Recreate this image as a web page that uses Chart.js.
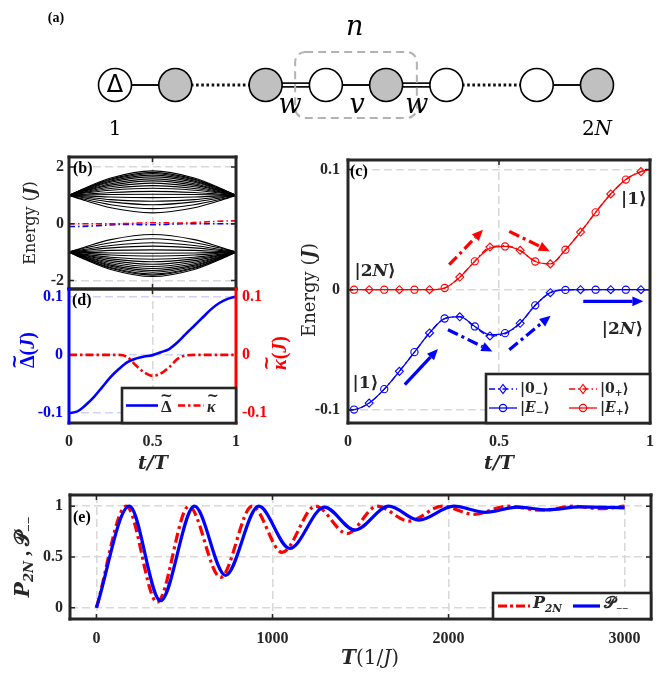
<!DOCTYPE html>
<html>
<head>
<meta charset="utf-8">
<script src="https://cdn.jsdelivr.net/npm/chart.js@4.4.1/dist/chart.umd.min.js"></script>
<style>
  body { margin: 0; background: #fff; width: 667px; height: 673px; position: relative; overflow: hidden; }
  canvas { position: absolute; }
</style>
</head>
<body>
<script>
// ---- data -------------------------------------------------------------
// (a) chain of sites
const siteX = [0, 1, 2.5, 3.5, 4.5, 5.5, 7, 8];
const siteFilled = [false, true, true, false, true, false, false, true];
const singleBonds = [[0, 1], [3, 4], [6, 7]];
const doubleBonds = [[2, 3], [4, 5]];
const dottedBonds = [[1, 2], [5, 6]];

// (b) bulk bands, sampled at tBand
const tBand = [0, 0.1, 0.25, 0.5, 0.75, 0.9, 1];
const upperBand = [
  [1, 1.27, 1.61, 1.86, 1.61, 1.27, 1],
  [1, 1.25, 1.57, 1.81, 1.57, 1.25, 1],
  [1, 1.24, 1.54, 1.77, 1.54, 1.24, 1],
  [1, 1.22, 1.50, 1.71, 1.50, 1.22, 1],
  [1, 1.20, 1.46, 1.65, 1.46, 1.20, 1],
  [1, 1.18, 1.41, 1.58, 1.41, 1.18, 1],
  [1, 1.16, 1.36, 1.51, 1.36, 1.16, 1],
  [1, 1.13, 1.30, 1.43, 1.30, 1.13, 1],
  [1, 1.11, 1.24, 1.34, 1.24, 1.11, 1],
  [1, 1.08, 1.18, 1.25, 1.18, 1.08, 1],
  [1, 1.04, 1.10, 1.14, 1.10, 1.04, 1],
  [1, 1.01, 1.03, 1.04, 1.03, 1.01, 1],
  [1, 0.98, 0.94, 0.92, 0.94, 0.98, 1],
  [1, 0.94, 0.85, 0.79, 0.85, 0.94, 1],
  [1, 0.90, 0.77, 0.67, 0.77, 0.90, 1],
  [1, 0.85, 0.67, 0.53, 0.67, 0.85, 1],
  [1, 0.81, 0.56, 0.38, 0.56, 0.81, 1]
];
const lowerBand = [
  [-1, -1.27, -1.61, -1.86, -1.61, -1.27, -1],
  [-1, -1.25, -1.57, -1.81, -1.57, -1.25, -1],
  [-1, -1.24, -1.54, -1.77, -1.54, -1.24, -1],
  [-1, -1.22, -1.50, -1.71, -1.50, -1.22, -1],
  [-1, -1.20, -1.46, -1.65, -1.46, -1.20, -1],
  [-1, -1.18, -1.41, -1.58, -1.41, -1.18, -1],
  [-1, -1.16, -1.36, -1.51, -1.36, -1.16, -1],
  [-1, -1.13, -1.30, -1.43, -1.30, -1.13, -1],
  [-1, -1.11, -1.24, -1.34, -1.24, -1.11, -1],
  [-1, -1.08, -1.18, -1.25, -1.18, -1.08, -1],
  [-1, -1.04, -1.10, -1.14, -1.10, -1.04, -1],
  [-1, -1.01, -1.03, -1.04, -1.03, -1.01, -1],
  [-1, -0.98, -0.94, -0.92, -0.94, -0.98, -1],
  [-1, -0.94, -0.85, -0.79, -0.85, -0.94, -1],
  [-1, -0.90, -0.77, -0.67, -0.77, -0.90, -1],
  [-1, -0.85, -0.67, -0.53, -0.67, -0.85, -1],
  [-1, -0.81, -0.56, -0.38, -0.56, -0.81, -1]
];

// (c) edge-state energies
const tC = [0, 0.02, 0.07, 0.12, 0.17, 0.22, 0.27, 0.32, 0.37, 0.42, 0.47, 0.52, 0.57, 0.62, 0.67, 0.72, 0.77, 0.82, 0.87, 0.92, 0.97, 1];
const eMinus    = [-0.1, -0.0998, -0.0944, -0.0828, -0.068, -0.052, -0.036, -0.024, -0.0225, -0.0306, -0.0375, -0.0362, -0.0278, -0.013, -0.0025, -0.0002, 0, 0, 0, 0, 0, 0];
const zeroMinus = [-0.1, -0.0998, -0.0944, -0.0828, -0.068, -0.052, -0.036, -0.024, -0.0226, -0.031, -0.0385, -0.0368, -0.028, -0.013, -0.0025, -0.0002, 0, 0, 0, 0, 0, 0];
const ePlus     = [0, 0, 0, 0, 0, 0, 0, 0.0014, 0.0103, 0.0236, 0.0345, 0.036, 0.0325, 0.0235, 0.0215, 0.0333, 0.048, 0.0644, 0.0797, 0.0917, 0.0983, 0.1];
const zeroPlus  = [0, 0, 0, 0, 0, 0, 0, 0.0014, 0.0105, 0.0238, 0.0355, 0.0366, 0.0328, 0.0236, 0.0215, 0.0333, 0.048, 0.0644, 0.0797, 0.0917, 0.0983, 0.1];

// (d) protocol
const tD = [0, 0.05, 0.1, 0.15, 0.2, 0.25, 0.3, 0.35, 0.4, 0.45, 0.5, 0.55, 0.6, 0.65, 0.7, 0.75, 0.8, 0.85, 0.9, 0.95, 1];
const deltaT = [-0.1, -0.097, -0.086, -0.072, -0.055, -0.038, -0.024, -0.0125, -0.0065, -0.003, -0.0005, 0.0045, 0.01, 0.0215, 0.036, 0.05, 0.064, 0.078, 0.089, 0.096, 0.1];
const kappaT = [0, 0, 0, 0, 0, 0, 0, -0.004, -0.018, -0.03, -0.036, -0.032, -0.021, -0.007, -0.001, 0, 0, 0, 0, 0, 0];

// (e) transfer probability vs total time
const tP2N = [0, 170, 345, 525, 705, 885, 1055, 1244, 1424, 1595, 1775, 1964, 2144, 2333, 2530, 2712, 2860, 3000];
const p2N  = [0, 1, 0.055, 1, 0.3, 1, 0.545, 1, 0.73, 1, 0.853, 1, 0.92, 1, 0.96, 1, 0.975, 1];
const tPmm = [0, 187, 364, 557, 733, 922, 1098, 1295, 1468, 1661, 1831, 2030, 2210, 2390, 2560, 2750, 3000];
const pmm  = [0, 1, 0.07, 1, 0.32, 1, 0.585, 0.99, 0.765, 1, 0.863, 1, 0.94, 0.99, 0.964, 0.993, 0.984];

// ticks
const tTicks = [0, 0.5, 1], tLabels = ['0', '0.5', '1'];
const bTicks = [-2, 0, 2], bLabels = ['-2', '0', '2'];
const cTicks = [-0.1, 0, 0.1], cLabels = ['-0.1', '0', '0.1'];
const eTicksX = [0, 1000, 2000, 3000], eLabelsX = ['0', '1000', '2000', '3000'];
const eTicksY = [0, 0.5, 1], eLabelsY = ['0', '0.5', '1'];

// ---- helpers ----------------------------------------------------------
const SERIF = '"Liberation Serif", "DejaVu Serif", "DejaVu Sans", serif';
const DSERIF = '"DejaVu Serif", "DejaVu Sans", serif';
const INK = '#262626', GRID = '#d9d9d9';
const BLUE = '#0000ff', RED = '#ff0000';
const DD = [6, 3, 1.5, 3];
const DD_THICK = [11, 4, 3, 4];

const pts = (xs, ys) => xs.map((x, i) => ({ x, y: ys[i] }));

// runs of text: {t, b, i, sub, f, tilde}
function rich(ctx, runs, x, y, size, align, color) {
  const parts = runs.map(r => {
    const s = r.sub ? size * 0.66 : size;
    const style = (r.i ? 'italic ' : '') + (r.b ? 'bold ' : '');
    const font = style + s + 'px ' + (r.f || SERIF);
    ctx.font = font;
    return { t: r.t, font, style, s, tilde: r.tilde, w: ctx.measureText(r.t).width, dy: r.sub ? size * 0.3 : 0 };
  });
  const total = parts.reduce((s, p) => s + p.w, 0);
  let cx = align === 'center' ? x - total / 2 : align === 'right' ? x - total : x;
  ctx.fillStyle = color || INK;
  ctx.textBaseline = 'middle';
  parts.forEach(p => {
    ctx.textAlign = 'left';
    ctx.font = p.font;
    ctx.fillText(p.t, cx, y + p.dy);
    if (p.tilde) {
      ctx.textAlign = 'center';
      ctx.font = 'bold ' + (p.s * 0.9) + 'px ' + DSERIF;
      ctx.fillText('~', cx + p.w / 2 + (p.style.includes('italic') ? 1.5 : 0), y + p.dy - p.s * 0.68);
    }
    cx += p.w;
  });
  return total;
}
function richRot(ctx, runs, x, y, size, color) {
  ctx.save();
  ctx.translate(x, y);
  ctx.rotate(-Math.PI / 2);
  rich(ctx, runs, 0, 0, size, 'center', color);
  ctx.restore();
}
function arrow(ctx, x1, y1, x2, y2, color, dash) {
  const ang = Math.atan2(y2 - y1, x2 - x1), L = 11, W = 4.8;
  const bx = x2 - L * Math.cos(ang), by = y2 - L * Math.sin(ang);
  ctx.save();
  ctx.strokeStyle = color; ctx.fillStyle = color; ctx.lineWidth = 3.2;
  ctx.setLineDash(dash);
  ctx.beginPath(); ctx.moveTo(x1, y1); ctx.lineTo(bx, by); ctx.stroke();
  ctx.setLineDash([]);
  ctx.beginPath();
  ctx.moveTo(x2, y2);
  ctx.lineTo(bx + W * Math.sin(ang), by - W * Math.cos(ang));
  ctx.lineTo(bx - W * Math.sin(ang), by + W * Math.cos(ang));
  ctx.closePath(); ctx.fill();
  ctx.restore();
}
function sample(ctx, x1, x2, y, color, width, dash) {
  ctx.save();
  ctx.strokeStyle = color; ctx.lineWidth = width; ctx.setLineDash(dash);
  ctx.beginPath(); ctx.moveTo(x1, y); ctx.lineTo(x2, y); ctx.stroke();
  ctx.restore();
}
function marker(ctx, kind, x, y, color) {
  ctx.save();
  ctx.strokeStyle = color; ctx.lineWidth = 1.2; ctx.setLineDash([]);
  ctx.beginPath();
  if (kind === 'circle') ctx.arc(x, y, 3.6, 0, Math.PI * 2);
  else { ctx.moveTo(x, y - 4.5); ctx.lineTo(x + 3.4, y); ctx.lineTo(x, y + 4.5); ctx.lineTo(x - 3.4, y); ctx.closePath(); }
  ctx.stroke();
  ctx.restore();
}
function legendBox(ctx, l, t, r, b) {
  ctx.save();
  ctx.fillStyle = '#fff';
  ctx.fillRect(l, t, r - l, b - t);
  ctx.strokeStyle = INK; ctx.lineWidth = 2.6; ctx.setLineDash([]);
  ctx.strokeRect(l, t, r - l, b - t);
  ctx.restore();
}

function axis(min, max, ticks, labels, o) {
  return {
    type: 'linear', min, max, position: o.pos,
    afterBuildTicks: s => { s.ticks = ticks.map(v => ({ value: v })); },
    afterFit: s => {
      if (s.isHorizontal()) s.height = o.size; else s.width = o.size;
      s.paddingTop = s.paddingBottom = s.paddingLeft = s.paddingRight = 0;
    },
    grid: { display: o.grid !== false, color: o.gridColor || GRID, lineWidth: 1.6, drawTicks: false },
    border: { display: false, dash: [8, 4] },
    ticks: {
      display: o.labels !== false, autoSkip: false, maxRotation: 0, padding: o.pad === undefined ? 6 : o.pad,
      color: o.color || INK, font: { family: SERIF, size: 16, weight: 'bold' },
      callback: (v, i) => labels[i]
    }
  };
}

function frame(o) {
  return {
    id: 'frame',
    afterDraw(chart) {
      const { ctx, chartArea: a } = chart;
      const sx = chart.scales.x, sy = chart.scales[o.y || 'y'];
      const P = (x, y) => [x - o.ox, y - o.oy];
      ctx.save();
      ctx.lineWidth = 1.5; ctx.strokeStyle = INK; ctx.setLineDash([]);
      (o.xt || []).forEach(v => {
        const p = sx.getPixelForValue(v);
        ctx.beginPath();
        ctx.moveTo(p, a.top); ctx.lineTo(p, a.top + 5);
        ctx.moveTo(p, a.bottom); ctx.lineTo(p, a.bottom - 5);
        ctx.stroke();
      });
      (o.yt || []).forEach(v => {
        const p = sy.getPixelForValue(v);
        ctx.beginPath();
        ctx.moveTo(a.left, p); ctx.lineTo(a.left + 5, p);
        ctx.moveTo(a.right, p); ctx.lineTo(a.right - 5, p);
        ctx.stroke();
      });
      const c = Object.assign({ top: INK, bottom: INK, left: INK, right: INK }, o.colors || {});
      const seg = (x1, y1, x2, y2, col) => { ctx.strokeStyle = col; ctx.beginPath(); ctx.moveTo(x1, y1); ctx.lineTo(x2, y2); ctx.stroke(); };
      ctx.lineWidth = 3; ctx.lineCap = 'square';
      seg(a.left, a.top, a.right, a.top, c.top);
      seg(a.left, a.bottom, a.right, a.bottom, c.bottom);
      seg(a.left, a.top, a.left, a.bottom, c.left);
      seg(a.right, a.top, a.right, a.bottom, c.right);
      ctx.lineCap = 'butt';
      if (o.draw) o.draw(ctx, chart, P);
      ctx.restore();
    }
  };
}

function makeCanvas(box) {
  const cv = document.createElement('canvas');
  cv.width = box[2]; cv.height = box[3];
  cv.style.left = box[0] + 'px'; cv.style.top = box[1] + 'px';
  cv.style.width = box[2] + 'px'; cv.style.height = box[3] + 'px';
  document.body.appendChild(cv);
  return cv.getContext('2d');
}
const baseOpts = padding => ({
  responsive: false, animation: false, events: [],
  layout: { padding, autoPadding: false },
  plugins: { legend: { display: false }, tooltip: { enabled: false } }
});
const lineDS = (data, color, width, dash, extra) => Object.assign({
  data, borderColor: color, borderWidth: width, borderDash: dash || [],
  pointRadius: 0, cubicInterpolationMode: 'monotone', fill: false
}, extra || {});

// ---- (a) chain diagram ------------------------------------------------
{
  const ctx = makeCanvas([0, 0, 667, 150]);
  const ds = [];
  singleBonds.forEach(([a, b]) => ds.push(lineDS(pts([siteX[a], siteX[b]], [0, 0]), '#111', 2.2, [], { order: 3 })));
  doubleBonds.forEach(([a, b]) => {
    ds.push(lineDS(pts([siteX[a], siteX[b]], [0, 0]), '#111', 5.4, [], { order: 3 }));
    ds.push(lineDS(pts([siteX[a], siteX[b]], [0, 0]), '#fff', 1.8, [], { order: 2 }));
  });
  dottedBonds.forEach(([a, b]) => ds.push(lineDS(pts([siteX[a], siteX[b]], [0, 0]), '#111', 3, [2.6, 2.6], { order: 3 })));
  ds.push({
    data: pts(siteX, siteX.map(() => 0)), showLine: false, order: 0,
    pointRadius: 16.5, pointBorderWidth: 1.6, pointBorderColor: '#000',
    pointBackgroundColor: siteFilled.map(f => f ? '#c0c0c0' : '#ffffff')
  });
  new Chart(ctx, {
    type: 'line',
    data: { datasets: ds },
    options: Object.assign(baseOpts(0), {
      scales: {
        x: { type: 'linear', display: false, min: -1.909, max: 9.162 },
        y: { type: 'linear', display: false, min: -1.079, max: 1.411 }
      }
    }),
    plugins: [{
      id: 'chainText',
      afterDraw(chart) {
        const c = chart.ctx, X = v => chart.scales.x.getPixelForValue(v), Y = v => chart.scales.y.getPixelForValue(v);
        c.save();
        // unit cell box
        c.strokeStyle = '#b3b3b3'; c.lineWidth = 2; c.setLineDash([8, 5]);
        c.beginPath();
        c.roundRect(X(2.99), Y(0.548), X(5.01) - X(2.99), Y(-0.548) - Y(0.548), 10);
        c.stroke();
        c.setLineDash([]);
        c.fillStyle = '#000';
        c.textAlign = 'center';
        c.textBaseline = 'middle';
        c.font = '24px "DejaVu Sans", sans-serif';
        c.fillText('Δ', X(0), Y(0) + 1);
        c.textBaseline = 'alphabetic';
        c.font = 'italic 27px ' + DSERIF;
        c.fillText('n', X(3.98), Y(0.83));
        c.fillText('w', X(2.905), Y(-0.465));
        c.fillText('v', X(4.017), Y(-0.465));
        c.fillText('w', X(5.01), Y(-0.465));
        c.font = '20px ' + DSERIF;
        c.fillText('1', X(0), Y(-0.83));
        c.textAlign = 'left';
        const w2a = c.measureText('2').width;
        c.font = 'italic 20px ' + DSERIF;
        const wN = c.measureText('N').width;
        const x0 = X(8) - (w2a + wN) / 2;
        c.font = '20px ' + DSERIF;
        c.fillText('2', x0, Y(-0.83));
        c.font = 'italic 20px ' + DSERIF;
        c.fillText('N', x0 + w2a, Y(-0.83));
        c.restore();
        rich(c, [{ t: '(a)', b: 1 }], X(-0.98), Y(1.112), 14, 'center', '#000');
      }
    }]
  });
}

// ---- (b) bands --------------------------------------------------------
{
  const ctx = makeCanvas([0, 145, 300, 150]);
  const ds = [];
  upperBand.concat(lowerBand).forEach(b => ds.push(lineDS(pts(tBand, b), '#000', 1.1, [], { order: 2 })));
  ds.push(lineDS(pts(tC, ePlus), RED, 1.6, DD, { order: 1 }));
  ds.push(lineDS(pts(tC, eMinus), BLUE, 1.6, DD, { order: 1 }));
  new Chart(ctx, {
    type: 'line',
    data: { datasets: ds },
    options: Object.assign(baseOpts({ top: 12, right: 64, left: 0, bottom: 0 }), {
      scales: {
        x: axis(0, 1, tTicks, tLabels, { size: 6, labels: false }),
        y: axis(-2.3, 2.35, bTicks, bLabels, { size: 69, pad: 5 })
      }
    }),
    plugins: [frame({
      ox: 0, oy: 145, xt: tTicks, yt: bTicks,
      draw(c, chart, P) {
        rich(c, [{ t: '(b)', b: 1 }], ...P(73, 169), 16, 'left', '#000');
        richRot(c, [{ t: 'Energy (', f: DSERIF }, { t: 'J', b: 1, i: 1, f: DSERIF }, { t: ')', f: DSERIF }], ...P(31, 223), 16, INK);
      }
    })]
  });
}

// ---- (d) protocol -----------------------------------------------------
{
  const ctx = makeCanvas([0, 280, 300, 200]);
  new Chart(ctx, {
    type: 'line',
    data: {
      datasets: [
        lineDS(pts(tD, deltaT), BLUE, 2.6, [], { yAxisID: 'y', order: 0 }),
        lineDS(pts(tD, kappaT), RED, 2.6, [8, 3, 2.5, 3], { yAxisID: 'yR', order: 1 })
      ]
    },
    options: Object.assign(baseOpts({ top: 9, right: 0, left: 0, bottom: 0 }), {
      scales: {
        x: axis(0, 1, tTicks, tLabels, { size: 57, pad: 9 }),
        y: axis(-0.117, 0.113, cTicks, cLabels, { size: 69, pad: 6, color: BLUE, gridColor: '#d2d2f7', pos: 'left' }),
        yR: axis(-0.117, 0.113, cTicks, cLabels, { size: 64, pad: 6, color: RED, grid: false, pos: 'right' })
      }
    }),
    plugins: [frame({
      ox: 0, oy: 280, xt: tTicks, colors: { left: BLUE, right: RED },
      draw(c, chart, P) {
        rich(c, [{ t: '(d)', b: 1 }], ...P(72, 301), 16, 'left', '#000');
        richRot(c, [{ t: 'Δ', b: 1, tilde: 1 }, { t: '(', b: 1 }, { t: 'J', b: 1, i: 1 }, { t: ')', b: 1 }], ...P(29, 350), 20, BLUE);
        richRot(c, [{ t: 'κ', b: 1, i: 1, tilde: 1 }, { t: '(', b: 1 }, { t: 'J', b: 1, i: 1 }, { t: ')', b: 1 }], ...P(281, 353), 20, RED);
        rich(c, [{ t: 't/T', b: 1, i: 1, f: DSERIF }], ...P(153, 464), 19, 'center', INK);
        const [l, t] = P(122, 388), [r, b] = P(236, 423);
        legendBox(c, l, t, r, b);
        const y = (t + b) / 2;
        sample(c, l + 4, l + 36, y, BLUE, 2.6, []);
        rich(c, [{ t: 'Δ', b: 1, tilde: 1 }], l + 39, y + 2, 17, 'left', INK);
        sample(c, l + 56, l + 82, y, RED, 2.6, [7, 3, 2.5, 3]);
        rich(c, [{ t: 'κ', b: 1, i: 1, tilde: 1 }], l + 85, y + 2, 16, 'left', INK);
      }
    })]
  });
}

// ---- (c) edge energies ------------------------------------------------
{
  const ctx = makeCanvas([295, 145, 372, 335]);
  const markAt = (parity, r) => tC.map((t, i) => (i > 0 && i < tC.length - 1 && i % 2 === parity) ? r : 0);
  const mk = (color, style, parity, r) => ({
    pointStyle: style, pointRadius: markAt(parity, r), pointBorderColor: color,
    pointBackgroundColor: 'rgba(255,255,255,0)', pointBorderWidth: 1.1
  });
  const arrows = [
    { from: [0.188, -0.079], to: [0.298, -0.0494], color: BLUE, dash: [] },
    { from: [0.331, -0.0333], to: [0.478, -0.0514], color: BLUE, dash: DD_THICK },
    { from: [0.534, -0.05], to: [0.671, -0.0217], color: BLUE, dash: DD_THICK },
    { from: [0.779, -0.0097], to: [0.978, -0.0097], color: BLUE, dash: [] },
    { from: [0.335, 0.0208], to: [0.447, 0.05], color: RED, dash: DD_THICK },
    { from: [0.534, 0.0486], to: [0.668, 0.032], color: RED, dash: DD_THICK }
  ];
  new Chart(ctx, {
    type: 'line',
    data: {
      datasets: [
        lineDS(pts(tC, zeroMinus), BLUE, 1.3, DD, Object.assign({ order: 1 }, mk(BLUE, 'rectRot', 0, 4))),
        lineDS(pts(tC, eMinus), BLUE, 1.3, [], Object.assign({ order: 0 }, mk(BLUE, 'circle', 1, 3.6))),
        lineDS(pts(tC, zeroPlus), RED, 1.3, DD, Object.assign({ order: 1 }, mk(RED, 'rectRot', 0, 4))),
        lineDS(pts(tC, ePlus), RED, 1.3, [], Object.assign({ order: 0 }, mk(RED, 'circle', 1, 3.6)))
      ]
    },
    options: Object.assign(baseOpts({ top: 15, right: 17, left: 0, bottom: 0 }), {
      scales: {
        x: axis(0, 1, tTicks, tLabels, { size: 57, pad: 9 }),
        y: axis(-0.111, 0.108, cTicks, cLabels, { size: 53, pad: 8 })
      }
    }),
    plugins: [frame({
      ox: 295, oy: 145, xt: tTicks, yt: cTicks,
      draw(c, chart, P) {
        const X = v => chart.scales.x.getPixelForValue(v), Y = v => chart.scales.y.getPixelForValue(v);
        arrows.forEach(a => arrow(c, X(a.from[0]), Y(a.from[1]), X(a.to[0]), Y(a.to[1]), a.color, a.dash));
        const ket2N = [{ t: '|2', b: 1, f: DSERIF }, { t: 'N', b: 1, i: 1, f: DSERIF }, { t: '⟩', b: 1, f: DSERIF }];
        const ket1 = [{ t: '|1⟩', b: 1, f: DSERIF }];
        rich(c, ket2N, X(0.09), Y(0.0153), 17, 'center', INK);
        rich(c, ket1, X(0.947), Y(0.075), 17, 'center', INK);
        rich(c, ket1, X(0.058), Y(-0.0778), 17, 'center', INK);
        rich(c, ket2N, X(0.909), Y(-0.0333), 17, 'center', INK);
        rich(c, [{ t: '(c)', b: 1 }], ...P(350, 172), 16, 'left', '#000');
        richRot(c, [{ t: 'Energy (', f: DSERIF }, { t: 'J', b: 1, i: 1, f: DSERIF }, { t: ')', f: DSERIF }], ...P(310, 290), 18, INK);
        rich(c, [{ t: 't/T', b: 1, i: 1, f: DSERIF }], ...P(499, 464), 19, 'center', INK);
        // legend
        const [l, t] = P(486, 374), [r, b] = P(650, 423);
        legendBox(c, l, t, r, b);
        const rows = [t + 15, t + 34];
        const entries = [
          { col: 0, row: 0, color: BLUE, dash: DD, m: 'diamond', txt: [{ t: '|0', b: 1, f: DSERIF }, { t: '−', b: 1, sub: 1, f: DSERIF }, { t: '⟩', b: 1, f: DSERIF }] },
          { col: 1, row: 0, color: RED, dash: DD, m: 'diamond', txt: [{ t: '|0', b: 1, f: DSERIF }, { t: '+', b: 1, sub: 1, f: DSERIF }, { t: '⟩', b: 1, f: DSERIF }] },
          { col: 0, row: 1, color: BLUE, dash: [], m: 'circle', txt: [{ t: '|', b: 1, f: DSERIF }, { t: 'E', b: 1, i: 1, f: DSERIF }, { t: '−', b: 1, sub: 1, f: DSERIF }, { t: '⟩', b: 1, f: DSERIF }] },
          { col: 1, row: 1, color: RED, dash: [], m: 'circle', txt: [{ t: '|', b: 1, f: DSERIF }, { t: 'E', b: 1, i: 1, f: DSERIF }, { t: '+', b: 1, sub: 1, f: DSERIF }, { t: '⟩', b: 1, f: DSERIF }] }
        ];
        entries.forEach(e => {
          const x0 = l + 3 + e.col * 80, y = rows[e.row];
          sample(c, x0, x0 + 28, y, e.color, 1.3, e.dash);
          marker(c, e.m, x0 + 14, y, e.color);
          rich(c, e.txt, x0 + 31, y, 14, 'left', INK);
        });
      }
    })]
  });
}

// ---- (e) probabilities ------------------------------------------------
{
  const ctx = makeCanvas([0, 485, 667, 188]);
  new Chart(ctx, {
    type: 'line',
    data: {
      datasets: [
        lineDS(pts(tPmm, pmm), BLUE, 3.2, [], { order: 0 }),
        lineDS(pts(tP2N, p2N), RED, 3.2, [10, 4, 3, 4], { order: 1 })
      ]
    },
    options: Object.assign(baseOpts({ top: 10, right: 16, left: 0, bottom: 0 }), {
      scales: {
        x: axis(-150, 3150, eTicksX, eLabelsX, { size: 54, pad: 10 }),
        y: axis(-0.11, 1.11, eTicksY, eLabelsY, { size: 70, pad: 7 })
      }
    }),
    plugins: [frame({
      ox: 0, oy: 485, xt: eTicksX, yt: eTicksY,
      draw(c, chart, P) {
        rich(c, [{ t: '(e)', b: 1 }], ...P(73, 518), 16, 'left', '#000');
        richRot(c, [{ t: 'P', b: 1, i: 1, f: DSERIF }, { t: '2N', b: 1, i: 1, sub: 1, f: DSERIF }, { t: ' , ', b: 1 },
          { t: '𝒫', b: 1 }, { t: '−−', b: 1, sub: 1 }], ...P(24, 557), 20, INK);
        rich(c, [{ t: 'T', b: 1, i: 1, f: DSERIF }, { t: '(1/', f: DSERIF }, { t: 'J', i: 1, f: DSERIF }, { t: ')', f: DSERIF }], ...P(370, 659), 20, 'center', INK);
        const [l, t] = P(493, 593), [r, b] = P(651, 619);
        legendBox(c, l, t, r, b);
        const y = (t + b) / 2;
        sample(c, l + 5, l + 37, y, RED, 3.2, [9, 3, 3, 3]);
        rich(c, [{ t: 'P', b: 1, i: 1, f: DSERIF }, { t: '2N', b: 1, i: 1, sub: 1, f: DSERIF }], l + 40, y - 2, 16, 'left', INK);
        sample(c, l + 80, l + 107, y, BLUE, 3.2, []);
        rich(c, [{ t: '𝒫', b: 1 }, { t: '−−', b: 1, sub: 1 }], l + 111, y - 2, 16, 'left', INK);
      }
    })]
  });
}
</script>
</body>
</html>
